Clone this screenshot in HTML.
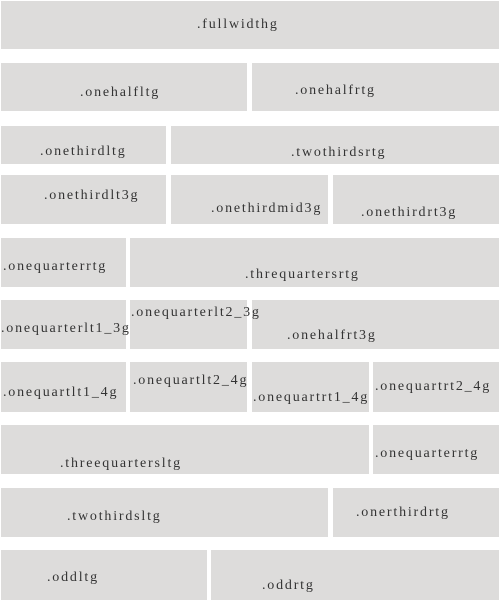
<!DOCTYPE html><html><head><style>
body{margin:0;width:500px;height:600px;background:#fff;position:relative;overflow:hidden;font-family:"Liberation Serif","Noto Serif CJK SC",serif;font-size:14px;letter-spacing:1.8px;color:#333}
.b{position:absolute;background:#dddcdb}
.t{position:absolute;line-height:14px;white-space:nowrap;margin-top:1px}
</style></head><body>
<div class="b" style="left:1px;top:1px;width:498px;height:48px"></div>
<div class="b" style="left:1px;top:63px;width:246px;height:48px"></div>
<div class="b" style="left:252px;top:63px;width:247px;height:48px"></div>
<div class="b" style="left:1px;top:126px;width:165px;height:38px"></div>
<div class="b" style="left:171px;top:126px;width:328px;height:38px"></div>
<div class="b" style="left:1px;top:175px;width:165px;height:49px"></div>
<div class="b" style="left:171px;top:175px;width:157px;height:49px"></div>
<div class="b" style="left:333px;top:175px;width:166px;height:49px"></div>
<div class="b" style="left:1px;top:238px;width:125px;height:49px"></div>
<div class="b" style="left:130px;top:238px;width:369px;height:49px"></div>
<div class="b" style="left:1px;top:300px;width:125px;height:49px"></div>
<div class="b" style="left:130px;top:300px;width:117px;height:49px"></div>
<div class="b" style="left:252px;top:300px;width:247px;height:49px"></div>
<div class="b" style="left:1px;top:362px;width:125px;height:50px"></div>
<div class="b" style="left:130px;top:362px;width:117px;height:50px"></div>
<div class="b" style="left:252px;top:362px;width:117px;height:50px"></div>
<div class="b" style="left:373px;top:362px;width:126px;height:50px"></div>
<div class="b" style="left:1px;top:425px;width:368px;height:49px"></div>
<div class="b" style="left:373px;top:425px;width:126px;height:49px"></div>
<div class="b" style="left:1px;top:488px;width:327px;height:49px"></div>
<div class="b" style="left:333px;top:488px;width:166px;height:49px"></div>
<div class="b" style="left:1px;top:550px;width:206px;height:50px"></div>
<div class="b" style="left:211px;top:550px;width:288px;height:50px"></div>

<div class="t" style="left:197px;top:17px">.fullwidthg</div>
<div class="t" style="left:80px;top:85px">.onehalfltg</div>
<div class="t" style="left:295px;top:83px">.onehalfrtg</div>
<div class="t" style="left:40px;top:144px">.onethirdltg</div>
<div class="t" style="left:291px;top:145px">.twothirdsrtg</div>
<div class="t" style="left:44px;top:188px">.onethirdlt3g</div>
<div class="t" style="left:211px;top:201px">.onethirdmid3g</div>
<div class="t" style="left:361px;top:205px">.onethirdrt3g</div>
<div class="t" style="left:3px;top:259px">.onequarterrtg</div>
<div class="t" style="left:245px;top:267px">.threquartersrtg</div>
<div class="t" style="left:1px;top:321px">.onequarterlt1_3g</div>
<div class="t" style="left:131px;top:305px">.onequarterlt2_3g</div>
<div class="t" style="left:287px;top:328px">.onehalfrt3g</div>
<div class="t" style="left:3px;top:385px">.onequartlt1_4g</div>
<div class="t" style="left:133px;top:373px">.onequartlt2_4g</div>
<div class="t" style="left:253px;top:390px">.onequartrt1_4g</div>
<div class="t" style="left:375px;top:379px">.onequartrt2_4g</div>
<div class="t" style="left:60px;top:456px">.threequartersltg</div>
<div class="t" style="left:375px;top:446px">.onequarterrtg</div>
<div class="t" style="left:67px;top:509px">.twothirdsltg</div>
<div class="t" style="left:356px;top:505px">.onerthirdrtg</div>
<div class="t" style="left:47px;top:570px">.oddltg</div>
<div class="t" style="left:262px;top:578px">.oddrtg</div>
</body></html>
